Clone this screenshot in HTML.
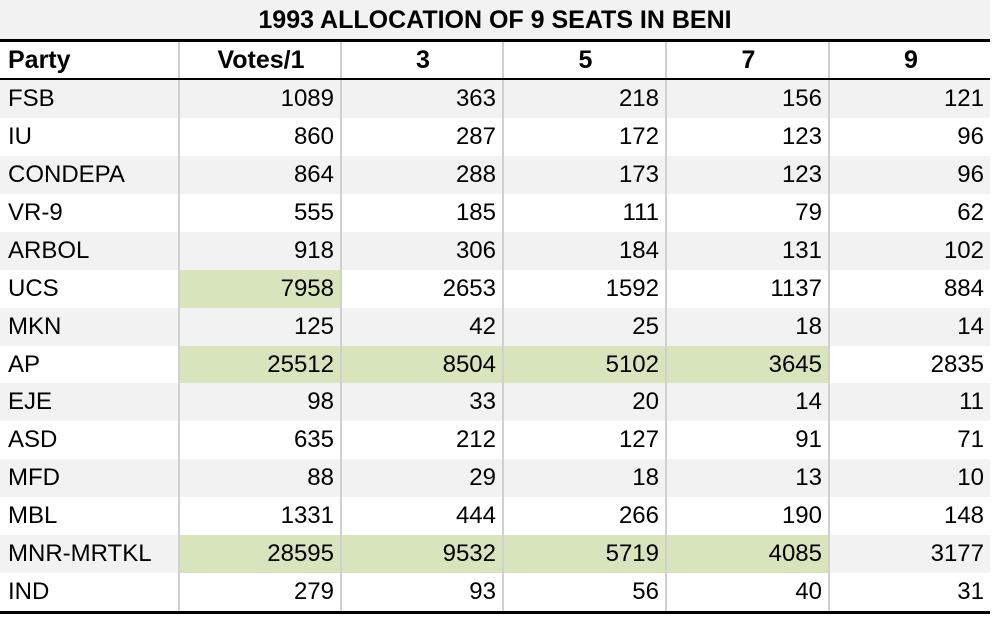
<!DOCTYPE html>
<html><head><meta charset="utf-8"><style>
body{margin:0;background:#fff;width:994px;height:624px;overflow:hidden;font-family:"Liberation Sans",sans-serif;}
#t{position:absolute;left:0;top:0;width:990px;}
.title{position:absolute;left:0;top:0;width:990px;height:39px;background:#f2f2f2;border-bottom:3px solid #000;font-weight:bold;font-size:25px;line-height:40px;text-align:center;}
.row{position:absolute;left:0;width:990px;height:38px;}
.c{position:absolute;top:0;height:100%;box-sizing:border-box;font-size:24px;line-height:38px;padding:0 6px 0 8px;white-space:nowrap;}
.n{text-align:right;border-left:2px solid #d0d0d0;}
.hdr .c{font-weight:bold;text-align:center;font-size:25px;}
.hdr .c.p{text-align:left;}
.g{background:#f2f2f2;}
.gr{background:#d8e4bc;}
</style></head><body>
<div id="t">
<div class="title">1993 ALLOCATION OF 9 SEATS IN BENI</div>
<div class="row hdr" style="top:42px;height:36px;border-bottom:3px solid #000;">
<div class="c p" style="left:0;width:178px;line-height:36px">Party</div>
<div class="c n" style="left:178px;width:162px;line-height:36px">Votes/1</div>
<div class="c n" style="left:340px;width:162px;line-height:36px">3</div>
<div class="c n" style="left:502px;width:163px;line-height:36px">5</div>
<div class="c n" style="left:665px;width:163px;line-height:36px">7</div>
<div class="c n" style="left:828px;width:162px;line-height:36px">9</div>
</div>
<div id="body"></div>
<div style="position:absolute;left:0;top:611px;width:990px;height:3px;background:#000"></div>
</div>
<script>
const parties=["FSB","IU","CONDEPA","VR-9","ARBOL","UCS","MKN","AP","EJE","ASD","MFD","MBL","MNR-MRTKL","IND"];
const votes=[1089,860,864,555,918,7958,125,25512,98,635,88,1331,28595,279];
const d3=[363,287,288,185,306,2653,42,8504,33,212,29,444,9532,93];
const d5=[218,172,173,111,184,1592,25,5102,20,127,18,266,5719,56];
const d7=[156,123,123,79,131,1137,18,3645,14,91,13,190,4085,40];
const d9=[121,96,96,62,102,884,14,2835,11,71,10,148,3177,31];
const highlighted=[[5,0],[7,0],[7,1],[7,2],[7,3],[12,0],[12,1],[12,2],[12,3]];
const lefts=[0,178,340,502,665,828],widths=[178,162,162,163,163,162];
const body=document.getElementById('body');
parties.forEach((p,i)=>{
  const r=document.createElement('div');
  r.className='row'+(i%2===0?' g':'');
  r.style.top=(80+i*37.93)+'px';
  
  
  const vals=[p,votes[i],d3[i],d5[i],d7[i],d9[i]];
  vals.forEach((v,j)=>{
    const c=document.createElement('div');
    c.className='c'+(j>0?' n':'');
    if(j>0&&highlighted.some(h=>h[0]===i&&h[1]===j-1))c.className+=' gr';
    c.style.left=lefts[j]+'px';c.style.width=widths[j]+'px';
    c.textContent=v;
    
    
    r.appendChild(c);
  });
  body.appendChild(r);
});
</script>
</body></html>
